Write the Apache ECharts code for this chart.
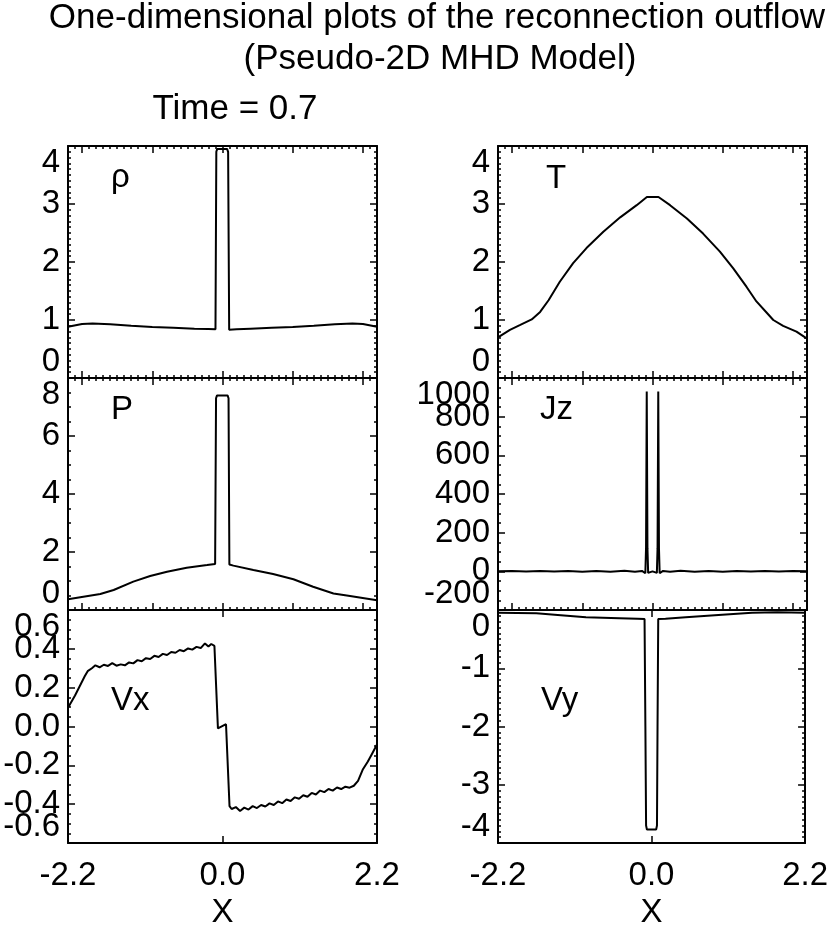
<!DOCTYPE html>
<html>
<head>
<meta charset="utf-8">
<script src="https://cdn.jsdelivr.net/npm/echarts@6/dist/echarts.min.js"></script>
<style>
  html, body { margin: 0; padding: 0; background: #fff; }
  #main { width: 831px; height: 939px; }
</style>
</head>
<body>
<div id="main"></div>
<script>
// values, one pair of arrays per panel
var rhoX = [-2.2, -2.0, -1.85, -1.6, -1.3, -1.0, -0.7, -0.4, -0.2, -0.1, -0.088, -0.075, 0.0, 0.065, 0.08, 0.095, 0.2, 0.4, 0.7, 1.0, 1.3, 1.6, 1.85, 2.0, 2.2];
var rhoY = [0.885, 0.93, 0.94, 0.925, 0.9, 0.88, 0.865, 0.85, 0.845, 0.84, 3.9, 3.95, 3.95, 3.95, 3.9, 0.83, 0.84, 0.85, 0.865, 0.88, 0.9, 0.925, 0.94, 0.93, 0.885];

var tX = [-2.2, -2.03, -1.89, -1.72, -1.6, -1.48, -1.32, -1.13, -0.94, -0.7, -0.46, -0.225, -0.08, 0.085, 0.25, 0.49, 0.72, 0.96, 1.15, 1.34, 1.48, 1.63, 1.72, 1.86, 2.05, 2.2];
var tY = [0.70, 0.83, 0.91, 1.01, 1.14, 1.34, 1.66, 1.98, 2.24, 2.52, 2.77, 2.98, 3.12, 3.12, 2.98, 2.75, 2.49, 2.18, 1.89, 1.57, 1.32, 1.12, 1.0, 0.90, 0.80, 0.68];

var pX = [-2.2, -1.74, -1.55, -1.27, -1.03, -0.79, -0.51, -0.22, -0.105, -0.092, -0.078, 0.072, 0.086, 0.098, 0.155, 0.44, 0.72, 1.01, 1.29, 1.58, 1.77, 2.2];
var pY = [0.37, 0.55, 0.69, 0.98, 1.17, 1.32, 1.46, 1.55, 1.59, 7.3, 7.4, 7.4, 7.3, 1.57, 1.53, 1.38, 1.24, 1.06, 0.80, 0.57, 0.50, 0.34];

var jzX = [-2.2, -2.0, -1.8, -1.6, -1.4, -1.2, -1.0, -0.8, -0.6, -0.4, -0.25, -0.15, -0.102, -0.092, -0.082, -0.072, -0.062, 0.0, 0.062, 0.072, 0.082, 0.092, 0.102, 0.15, 0.25, 0.4, 0.6, 0.8, 1.0, 1.2, 1.4, 1.6, 1.8, 2.0, 2.2];
var jzY = [0, 1.5, -1, 2, -1.5, 2, -2, 2, -2, 2.5, -2.5, 2, -10, 120, 930, 120, -8, 0, -8, 120, 930, 120, -10, 2, -2.5, 2.5, -2, 2, -2, 2, -1.5, 2, -1, 1.5, 0];

var vxX = [-2.2, -2.1, -2.03, -1.96, -1.92, -1.86, -1.81, -1.75, -1.69, -1.63, -1.57, -1.51, -1.45, -1.39, -1.33, -1.27, -1.21, -1.15, -1.09, -1.03, -0.97, -0.91, -0.85, -0.79, -0.73, -0.67, -0.61, -0.55, -0.49, -0.43, -0.37, -0.31, -0.25, -0.2, -0.16, -0.115, -0.065, 0.05, 0.1, 0.13, 0.19, 0.25, 0.31, 0.37, 0.43, 0.49, 0.55, 0.61, 0.67, 0.73, 0.79, 0.85, 0.91, 0.97, 1.03, 1.09, 1.15, 1.21, 1.27, 1.33, 1.39, 1.45, 1.51, 1.57, 1.63, 1.69, 1.75, 1.81, 1.87, 1.93, 2.0, 2.07, 2.13, 2.2];
var vxY = [0.097, 0.16, 0.21, 0.26, 0.285, 0.30, 0.315, 0.305, 0.318, 0.312, 0.326, 0.313, 0.32, 0.315, 0.33, 0.325, 0.342, 0.336, 0.352, 0.348, 0.364, 0.358, 0.374, 0.368, 0.384, 0.38, 0.394, 0.388, 0.402, 0.396, 0.41, 0.404, 0.428, 0.412, 0.425, 0.415, -0.01, 0.012, -0.41, -0.425, -0.415, -0.435, -0.418, -0.428, -0.41, -0.42, -0.404, -0.412, -0.396, -0.404, -0.386, -0.395, -0.376, -0.384, -0.365, -0.372, -0.354, -0.362, -0.342, -0.35, -0.33, -0.338, -0.322, -0.33, -0.314, -0.322, -0.31, -0.315, -0.305, -0.28, -0.22, -0.18, -0.14, -0.093];

var vyX = [-2.2, -1.65, -1.3, -0.94, -0.46, -0.2, -0.1, -0.088, -0.078, -0.066, 0.066, 0.078, 0.086, 0.096, 0.2, 0.49, 0.96, 1.44, 1.8, 2.2];
var vyY = [-0.046, -0.057, -0.09, -0.125, -0.14, -0.15, -0.155, -2.0, -3.7, -3.77, -3.77, -3.7, -2.0, -0.155, -0.15, -0.125, -0.086, -0.046, -0.04, -0.046];

var panelNames = ['ρ', 'T', 'P', 'Jz', 'Vx', 'Vy'];
// [min, max, interval, minor splits]
var yScales = [[0, 4, 1, 10], [0, 4, 1, 10], [0, 8, 2, 4], [-200, 1000, 200, 4], [-0.6, 0.6, 0.2, 4], [-4, 0, 1, 10]];
var xMajorTicks = [-2, -1, 0, 1, 2];

var FONT = '"Liberation Sans", Helvetica, Arial, sans-serif';

var myChart = echarts.init(document.getElementById('main'));

var gridBoxes = [
    {left: 68, top: 146, width: 309, height: 232},
    {left: 498, top: 146, width: 309, height: 232},
    {left: 68, top: 378, width: 309, height: 232},
    {left: 498, top: 378, width: 309, height: 232},
    {left: 68, top: 610, width: 309, height: 233},
    {left: 498, top: 610, width: 309, height: 233}
];
var labelPos = [[111, 178], [546, 179], [111, 410], [540, 410], [111, 701], [541, 701]];
var curves = [[rhoX, rhoY], [tX, tY], [pX, pY], [jzX, jzY], [vxX, vxY], [vyX, vyY]];

var black = {color: '#000', width: 2};
var tickStyle = {color: '#000', width: 1.5};
var xAxes = [], yAxes = [], series = [], graphics = [];

function zip(xs, ys) {
    return xs.map(function (x, i) { return [x, ys[i]]; });
}

gridBoxes.forEach(function (g, i) {
    var bottomRow = i >= 4;
    var xIdx = xAxes.length;
    ['bottom', 'top'].forEach(function (pos) {
        if (bottomRow) {
            xAxes.push({
                gridIndex: i, type: 'value', min: -2.2, max: 2.2, interval: 2.2, position: pos,
                axisLine: {onZero: false, lineStyle: black},
                axisTick: {inside: true, length: 7, lineStyle: tickStyle},
                axisLabel: {
                    show: pos === 'bottom', color: '#000', fontSize: 33, fontFamily: FONT, margin: 16,
                    showMinLabel: true, showMaxLabel: true,
                    formatter: function (v) { return v.toFixed(1); }
                },
                name: pos === 'bottom' ? 'X' : '',
                nameLocation: 'middle', nameGap: 53, nameMoveOverlap: false,
                nameTextStyle: {color: '#000', fontSize: 33, fontFamily: FONT},
                splitLine: {show: false}
            });
        } else {
            // minor ticks every 0.1
            xAxes.push({
                gridIndex: i, type: 'value', min: -2.2, max: 2.2, interval: 0.1, position: pos,
                axisLine: {onZero: false, lineStyle: black},
                axisTick: {inside: true, length: 3, lineStyle: tickStyle},
                axisLabel: {show: false},
                splitLine: {show: false}
            });
            // major ticks at whole numbers
            xAxes.push({
                gridIndex: i, type: 'value', min: -2.2, max: 2.2, position: pos,
                axisLine: {show: false, onZero: false},
                axisTick: {inside: true, length: 7, customValues: xMajorTicks, lineStyle: tickStyle},
                axisLabel: {show: false},
                splitLine: {show: false}
            });
        }
    });

    var s = yScales[i];
    var yIdx = yAxes.length;
    var fmt = function (v) { return i === 4 ? v.toFixed(1) : String(v); };
    ['left', 'right'].forEach(function (pos) {
        yAxes.push({
            gridIndex: i, type: 'value', min: s[0], max: s[1], interval: s[2], position: pos,
            axisLine: {onZero: false, lineStyle: black},
            axisTick: {inside: true, length: 7, lineStyle: tickStyle},
            minorTick: {show: true, splitNumber: s[3], length: 3, lineStyle: tickStyle},
            axisLabel: {
                show: pos === 'left', color: '#000', fontSize: 33, fontFamily: FONT, margin: 8,
                showMinLabel: false, showMaxLabel: false, hideOverlap: false,
                formatter: fmt
            },
            splitLine: {show: false},
            minorSplitLine: {show: false}
        });
    });
    // end labels, pulled inside the box like the original
    yAxes.push({
        gridIndex: i, type: 'value', min: s[0], max: s[1], position: 'left',
        axisLine: {show: false, onZero: false},
        axisTick: {show: false},
        axisLabel: {
            color: '#000', fontSize: 33, fontFamily: FONT, margin: 8,
            customValues: [s[0], s[1]],
            verticalAlignMinLabel: 'bottom', verticalAlignMaxLabel: 'top',
            formatter: fmt
        },
        splitLine: {show: false}
    });

    series.push({
        type: 'line', xAxisIndex: xIdx, yAxisIndex: yIdx,
        data: zip(curves[i][0], curves[i][1]),
        showSymbol: false, symbol: 'none',
        lineStyle: {color: '#000', width: 2},
        clip: true
    });

    graphics.push({
        type: 'text', x: labelPos[i][0], y: labelPos[i][1],
        style: {text: panelNames[i], fill: '#000', font: '33px ' + FONT, align: 'left', verticalAlign: 'middle'}
    });
});

graphics.push(
    {type: 'text', x: 437, y: 18, style: {text: 'One-dimensional plots of the reconnection outflow', fill: '#000', font: '35px ' + FONT, align: 'center', verticalAlign: 'middle'}},
    {type: 'text', x: 440, y: 59, style: {text: '(Pseudo-2D MHD Model)', fill: '#000', font: '35px ' + FONT, align: 'center', verticalAlign: 'middle'}},
    {type: 'text', x: 235, y: 109, style: {text: 'Time = 0.7', fill: '#000', font: '35px ' + FONT, align: 'center', verticalAlign: 'middle'}}
);

var option = {
    animation: false,
    backgroundColor: '#fff',
    grid: gridBoxes,
    xAxis: xAxes,
    yAxis: yAxes,
    series: series,
    graphic: graphics
};

myChart.setOption(option);

window.addEventListener('resize', function () {
    myChart.resize();
});
</script>
</body>
</html>
